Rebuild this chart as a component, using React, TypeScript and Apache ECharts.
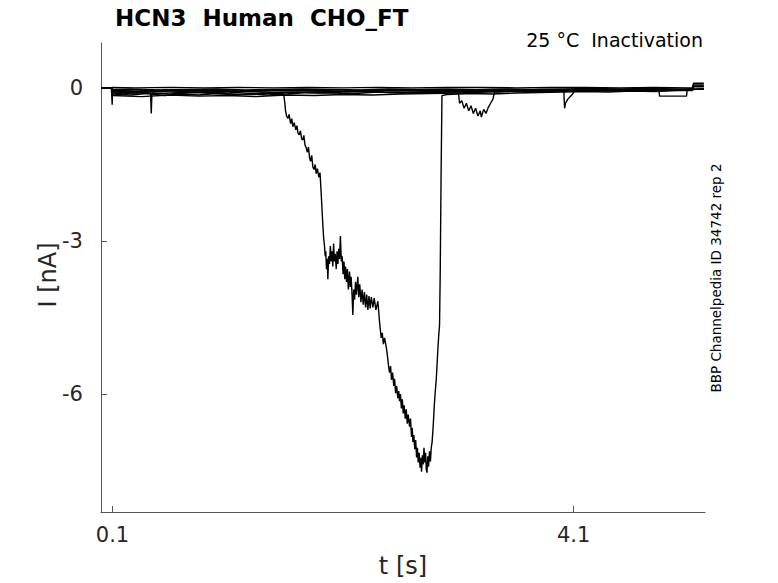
import React, { useEffect, useRef } from "react";
import * as echarts from "echarts";

// ---- axis ticks ----
const X_TICKS = [0.1, 4.1];
const Y_TICKS = [-6, -3, 0];

// ---- main sweep (large inward current) ----
const MAIN_T = [
  0, 0.09, 0.1, 0.25, 0.4, 0.55, 0.7, 0.85, 1.0, 1.15, 1.3, 1.45, 1.58,
  1.586, 1.595, 1.601, 1.61, 1.621, 1.632, 1.645, 1.655, 1.664, 1.676, 1.69, 1.7,
  1.708, 1.72, 1.73, 1.741, 1.751, 1.76, 1.77, 1.781, 1.79, 1.8, 1.809, 1.818,
  1.828, 1.838, 1.848, 1.858, 1.867, 1.877, 1.89, 1.9, 1.911, 1.918, 1.925, 1.932,
  1.939, 1.945, 1.95, 1.956, 1.962, 1.968, 1.975, 1.982, 1.99, 1.997, 2.004, 2.011,
  2.018, 2.025, 2.032, 2.041, 2.048, 2.055, 2.062, 2.07, 2.077, 2.085, 2.092, 2.1,
  2.108, 2.115, 2.122, 2.13, 2.138, 2.146, 2.156, 2.163, 2.17, 2.178, 2.185, 2.192,
  2.2, 2.208, 2.216, 2.228, 2.236, 2.245, 2.255, 2.265, 2.275, 2.285, 2.295, 2.305,
  2.315, 2.325, 2.335, 2.345, 2.359, 2.37, 2.385, 2.402, 2.41, 2.417, 2.424, 2.431,
  2.44, 2.45, 2.46, 2.475, 2.485, 2.495, 2.503, 2.512, 2.52, 2.53, 2.54, 2.547,
  2.556, 2.565, 2.575, 2.583, 2.59, 2.598, 2.606, 2.614, 2.622, 2.63, 2.64, 2.648,
  2.657, 2.665, 2.677, 2.685, 2.694, 2.7, 2.706, 2.714, 2.722, 2.73, 2.738, 2.745,
  2.752, 2.76, 2.768, 2.775, 2.781, 2.788, 2.795, 2.802, 2.809, 2.816, 2.822, 2.828,
  2.835, 2.842, 2.85, 2.858, 2.865, 2.872, 2.88, 2.885, 2.892, 2.9, 2.909, 2.916,
  2.923, 2.93, 2.937, 2.943, 2.95, 2.958,
  3.0, 3.2, 3.4, 3.6, 3.8, 4.0, 4.2, 4.4, 4.6, 4.8, 5.0, 5.13, 5.14, 5.23,
];
const MAIN_I = [
  0.0, 0.0, -0.12, -0.14, -0.11, -0.15, -0.12, -0.14, -0.11, -0.13, -0.12, -0.14, -0.12,
  -0.14, -0.3, -0.45, -0.55, -0.6, -0.52, -0.7, -0.6, -0.76, -0.68, -0.82, -0.74,
  -0.88, -0.92, -0.84, -1.0, -1.02, -0.93, -1.12, -1.18, -1.26, -1.16, -1.36, -1.44,
  -1.32, -1.55, -1.6, -1.5, -1.68, -1.58, -1.75, -1.66, -2.1, -2.4, -2.7, -2.95,
  -3.1, -3.3, -3.2, -3.55, -3.35, -3.75, -3.3, -3.45, -3.1, -3.4, -3.2, -3.5,
  -3.05, -3.4, -3.25, -3.55, -3.2, -3.45, -3.15, -3.35, -2.9, -3.4, -3.3, -3.65,
  -3.4, -3.75, -3.5, -3.8, -3.55, -3.95, -3.6, -3.9, -3.7, -4.05, -4.45, -3.95,
  -4.15, -3.8, -4.05, -3.7, -4.1, -3.85, -4.2, -3.95, -4.25, -4.0, -4.3, -4.05,
  -4.35, -4.08, -4.32, -4.1, -4.3, -4.12, -4.35, -4.18, -4.4, -4.6, -4.75, -4.9,
  -4.8, -5.02, -4.9, -5.08, -5.25, -5.45, -5.58, -5.45, -5.72, -5.58, -5.84, -5.7,
  -5.98, -5.84, -6.08, -5.94, -6.14, -6.0, -6.28, -6.1, -6.38, -6.22, -6.48, -6.3,
  -6.58, -6.4, -6.64, -6.48, -6.84, -6.66, -6.94, -6.8, -7.08, -6.9, -7.24, -7.05,
  -7.34, -7.15, -7.44, -7.25, -7.52, -7.2, -7.38, -7.05, -7.34, -7.15, -7.48, -7.54,
  -7.22, -7.42, -7.12, -7.32, -7.05, -6.95, -6.7, -6.5, -6.2, -5.95, -5.7, -5.4,
  -5.1, -4.85, -4.65, -3.6, -1.8, -0.15,
  -0.13, -0.11, -0.12, -0.1, -0.09, -0.08, -0.07, -0.08, -0.06, -0.07, -0.05, -0.05, 0.03, 0.03,
];

// ---- small sweeps near zero ----
const S1_T = [0, 0.09, 0.1, 0.3, 0.6, 0.9, 1.2, 1.5, 1.8, 2.1, 2.4, 2.7, 3.0, 3.3, 3.6, 3.9, 4.2, 4.5, 4.8, 5.1, 5.13, 5.14, 5.23];
const S1_I = [0.0, 0.0, 0.01, 0.0, 0.01, 0.0, 0.01, 0.0, 0.01, 0.0, 0.01, 0.0, 0.01, 0.01, 0.0, 0.01, 0.01, 0.0, 0.01, 0.0, 0.0, 0.09, 0.09];

const S2_T = [0, 0.09, 0.1, 0.25, 0.5, 0.75, 1.0, 1.25, 1.5, 1.75, 2.0, 2.25, 2.5, 2.75, 3.0, 3.25, 3.5, 3.75, 4.0, 4.25, 4.5, 4.75, 5.0, 5.13, 5.14, 5.23];
const S2_I = [0.0, 0.0, -0.03, -0.02, -0.04, -0.03, -0.02, -0.04, -0.03, -0.02, -0.03, -0.04, -0.02, -0.03, -0.02, -0.03, -0.02, -0.03, -0.02, -0.01, -0.02, -0.01, -0.02, -0.02, 0.06, 0.06];

const S3_T = [0, 0.09, 0.094, 0.097, 0.1, 0.3, 0.55, 0.8, 1.05, 1.3, 1.55, 1.8, 2.05, 2.3, 2.55, 2.8, 3.05, 3.3, 3.55, 3.8, 4.05, 4.3, 4.55, 4.8, 5.05, 5.13, 5.14, 5.23];
const S3_I = [0.0, 0.0, 0.0, -0.33, -0.06, -0.07, -0.05, -0.08, -0.06, -0.07, -0.05, -0.06, -0.07, -0.05, -0.06, -0.04, -0.05, -0.04, -0.05, -0.03, -0.04, -0.03, -0.04, -0.03, -0.03, -0.03, 0.04, 0.04];

const S4_T = [0, 0.09, 0.1, 0.2, 0.3, 0.43, 0.436, 0.442, 0.6, 0.8, 1.0, 1.2, 1.4, 1.6, 1.8, 2.0, 2.2, 2.4, 2.6, 2.8, 3.0, 3.3, 3.6, 3.9, 4.2, 4.5, 4.8, 5.1, 5.13, 5.14, 5.23];
const S4_I = [0.0, 0.0, -0.1, -0.12, -0.09, -0.11, -0.5, -0.1, -0.12, -0.09, -0.11, -0.13, -0.1, -0.12, -0.09, -0.1, -0.11, -0.08, -0.1, -0.09, -0.08, -0.07, -0.06, -0.07, -0.05, -0.06, -0.05, -0.04, -0.04, 0.02, 0.02];

const S5_T = [0, 0.09, 0.1, 0.3, 0.5, 0.7, 0.9, 1.1, 1.3, 1.5, 1.7, 1.9, 2.1, 2.3, 2.5, 2.7, 2.9, 3.1, 3.105, 3.111, 3.13, 3.15, 3.17, 3.19, 3.21, 3.23, 3.25, 3.27, 3.29, 3.3, 3.32, 3.34, 3.36, 3.38, 3.4, 3.415, 3.6, 3.9, 4.2, 4.5, 4.8, 5.1, 5.23];
const S5_I = [0.0, 0.0, -0.08, -0.1, -0.07, -0.09, -0.08, -0.1, -0.07, -0.09, -0.08, -0.1, -0.08, -0.07, -0.09, -0.08, -0.07, -0.08, -0.08, -0.3, -0.25, -0.4, -0.3, -0.45, -0.35, -0.5, -0.4, -0.55, -0.45, -0.57, -0.42, -0.5, -0.38, -0.3, -0.22, -0.08, -0.06, -0.05, -0.06, -0.04, -0.05, -0.03, -0.02];

const S6_T = [0, 0.09, 0.1, 0.35, 0.6, 0.85, 1.1, 1.35, 1.6, 1.85, 2.1, 2.35, 2.6, 2.85, 3.1, 3.35, 3.6, 3.85, 4.015, 4.022, 4.03, 4.05, 4.08, 4.11, 4.35, 4.6, 4.85, 5.1, 5.23];
const S6_I = [0.0, 0.0, -0.15, -0.17, -0.14, -0.16, -0.15, -0.17, -0.14, -0.15, -0.13, -0.14, -0.12, -0.11, -0.1, -0.08, -0.07, -0.06, -0.05, -0.4, -0.3, -0.22, -0.15, -0.06, -0.05, -0.04, -0.05, -0.03, -0.02];

const S7_T = [0, 0.09, 0.1, 0.3, 0.6, 0.9, 1.2, 1.5, 1.8, 2.1, 2.4, 2.7, 3.0, 3.3, 3.6, 3.9, 4.2, 4.5, 4.84, 4.846, 5.08, 5.085, 5.23];
const S7_I = [0.0, 0.0, -0.05, -0.06, -0.04, -0.05, -0.06, -0.04, -0.05, -0.06, -0.04, -0.05, -0.04, -0.05, -0.04, -0.03, -0.04, -0.03, -0.04, -0.16, -0.16, -0.03, -0.02];

const TRACES: [number[], number[]][] = [
  [S1_T, S1_I], [S2_T, S2_I], [S3_T, S3_I], [S4_T, S4_I],
  [S5_T, S5_I], [S6_T, S6_I], [S7_T, S7_I], [MAIN_T, MAIN_I],
];

const TITLE = "HCN3  Human  CHO_FT";
const SUBTITLE = "25 °C  Inactivation";
const SIDE_NOTE = "BBP Channelpedia ID 34742 rep 2";
const X_NAME = "t [s]";
const Y_NAME = "I [nA]";

const FONT = '"DejaVu Sans", sans-serif';
const AXIS_COLOR = "#555555";
const LABEL_COLOR = "#262626";

export default function App() {
  const ref = useRef<HTMLDivElement>(null);
  useEffect(() => {
    if (!ref.current) return;
    const chart = echarts.init(ref.current, undefined, { renderer: "svg" });
    const series = TRACES.map(([t, v]) => ({
      type: "line",
      showSymbol: false,
      symbol: "none",
      silent: true,
      lineStyle: { color: "#000000", width: 1.4 },
      data: t.map((x, i) => [x, v[i]]),
    }));
    chart.setOption({
      animation: false,
      backgroundColor: "#ffffff",
      grid: { left: 101, right: 73, top: 43, bottom: 71, containLabel: false },
      xAxis: {
        type: "value",
        min: 0,
        max: 5.24,
        axisLine: { show: true, onZero: false, lineStyle: { color: AXIS_COLOR, width: 1 } },
        axisTick: { show: true, inside: true, length: 6, customValues: X_TICKS, lineStyle: { color: AXIS_COLOR } },
        axisLabel: {
          customValues: X_TICKS,
          margin: 12,
          color: LABEL_COLOR,
          fontFamily: FONT,
          fontSize: 21,
          formatter: (v: number) => v.toFixed(1),
        },
        splitLine: { show: false },
      },
      yAxis: {
        type: "value",
        min: -8.31,
        max: 0.88,
        axisLine: { show: true, onZero: false, lineStyle: { color: AXIS_COLOR, width: 1 } },
        axisTick: { show: true, inside: true, length: 6, customValues: Y_TICKS, lineStyle: { color: AXIS_COLOR } },
        axisLabel: {
          customValues: Y_TICKS,
          margin: 18,
          color: LABEL_COLOR,
          fontFamily: FONT,
          fontSize: 21,
          formatter: (v: number) => String(v),
        },
        splitLine: { show: false },
      },
      graphic: [
        {
          type: "text",
          x: 115,
          y: 18,
          style: { text: TITLE, fontFamily: FONT, fontWeight: "bold", fontSize: 23, fill: "#000", align: "left", verticalAlign: "middle" },
        },
        {
          type: "text",
          x: 703,
          y: 40,
          style: { text: SUBTITLE, fontFamily: FONT, fontSize: 19, fill: "#000", align: "right", verticalAlign: "middle" },
        },
        {
          type: "text",
          x: 716,
          y: 278,
          rotation: Math.PI / 2,
          style: { text: SIDE_NOTE, fontFamily: FONT, fontSize: 13.5, fill: "#000", align: "center", verticalAlign: "middle" },
        },
        {
          type: "text",
          x: 48,
          y: 275,
          rotation: Math.PI / 2,
          style: { text: Y_NAME, fontFamily: FONT, fontSize: 24, fill: LABEL_COLOR, align: "center", verticalAlign: "middle" },
        },
        {
          type: "text",
          x: 403,
          y: 566,
          style: { text: X_NAME, fontFamily: FONT, fontSize: 24, fill: LABEL_COLOR, align: "center", verticalAlign: "middle" },
        },
      ],
      series,
    });
    return () => chart.dispose();
  }, []);
  return (
    <div
      ref={ref}
      style={{ position: "fixed", left: 0, top: 0, width: 778, height: 583, background: "#fff" }}
    />
  );
}
